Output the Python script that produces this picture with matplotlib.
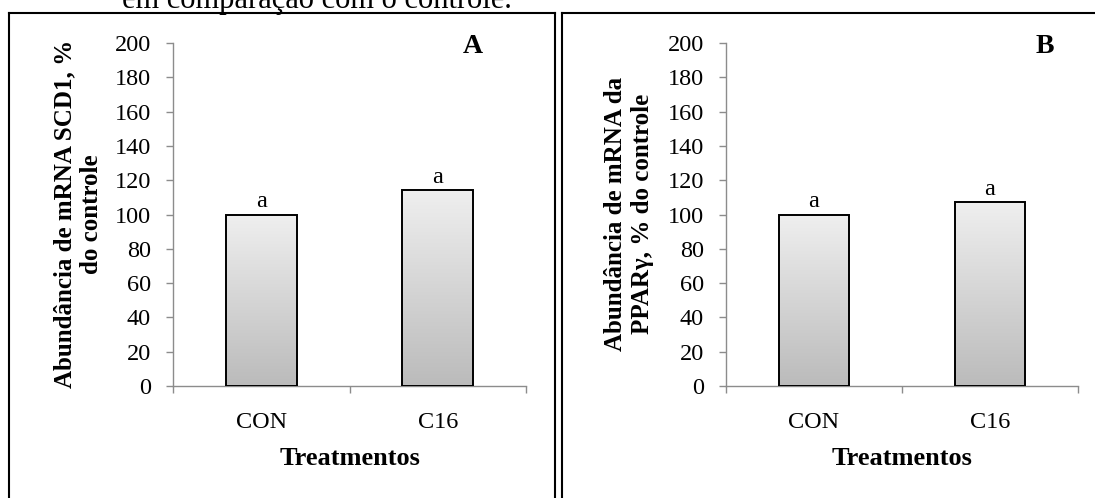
import numpy as np
import matplotlib
matplotlib.use("Agg")
from matplotlib import pyplot as plt
from matplotlib.lines import Line2D

# data
treatments = ["CON", "C16"]
scd1 = [100, 114]
pparg = [100, 107]
letters_scd1 = ["a", "a"]
letters_pparg = ["a", "a"]

plt.rcParams["font.family"] = ["Liberation Serif", "DejaVu Serif"]

W, H = 1095, 498
fig = plt.figure(figsize=(W / 100, H / 100), dpi=100)


def px_rect(left, top, right, bottom):
    return [left / W, 1 - bottom / H, (right - left) / W, (bottom - top) / H]


def gradient_bars(ax, values):
    bars = ax.bar(range(len(values)), values, width=0.4, facecolor="none",
                  edgecolor="black", linewidth=1.4, zorder=3)
    grad = np.linspace(0, 1, 256).reshape(-1, 1)
    cmap = matplotlib.colors.LinearSegmentedColormap.from_list(
        "g", ["#efefef", "#bbbbbb"])
    for b in bars:
        x0, w, h = b.get_x(), b.get_width(), b.get_height()
        im = ax.imshow(grad, cmap=cmap, aspect="auto", origin="upper",
                       extent=(x0, x0 + w, 0, h), zorder=2)
        im.set_clip_path(b)
    return bars


def panel(rect, values, letters, tag, tag_x, ylabel, ylabel_x):
    ax = fig.add_axes(rect)
    bars = gradient_bars(ax, values)
    ax.set_xlim(-0.5, len(values) - 0.5)
    ax.set_ylim(0, 200)
    ax.set_yticks(range(0, 201, 20))
    ax.set_xticks(range(len(values)))
    ax.set_xticklabels(treatments)
    ax.set_xticks(np.arange(-0.5, len(values), 1.0), minor=True)
    ax.tick_params(axis="x", which="major", length=0, pad=19, labelsize=17.5)
    ax.tick_params(axis="x", which="minor", length=5, width=1, color="#8c8c8c",
                   direction="out")
    ax.tick_params(axis="y", length=5, width=1, color="#8c8c8c", pad=11,
                   labelsize=17.5, direction="out")
    for s in ("top", "right"):
        ax.spines[s].set_visible(False)
    for s in ("left", "bottom"):
        ax.spines[s].set_color("#8c8c8c")
        ax.spines[s].set_linewidth(1.0)
    ax.set_xlabel("Treatmentos", fontsize=19, fontweight="bold", labelpad=10)
    for b, lt in zip(bars, letters):
        ax.annotate(lt, (b.get_x() + b.get_width() / 2, b.get_height()),
                    xytext=(0, 2), textcoords="offset points",
                    ha="center", va="bottom", fontsize=17.5)
    ax.text(tag_x, 0.99, tag, transform=ax.transAxes, ha="center",
            va="center", fontsize=20, fontweight="bold")
    fig.text(ylabel_x / W, 1 - 214 / H, ylabel, rotation=90, ha="center",
             va="center", multialignment="center", fontsize=18,
             fontweight="bold", linespacing=1.2)
    return ax


panel(px_rect(173, 43, 526, 386), scd1, letters_scd1, "A", 0.85,
      "Abundância de mRNA SCD1, %\ndo controle", 78)
panel(px_rect(726, 43, 1078, 386), pparg, letters_pparg, "B", 0.905,
      "Abundância de mRNA da\nPPARγ, % do controle", 629)


# panel frames (bottom edge is cut off in the source)
def frame(left, right):
    kw = dict(color="black", linewidth=1.5, transform=fig.transFigure)
    top = 1 - 13 / H
    fig.add_artist(Line2D([left / W, right / W], [top, top], **kw))
    fig.add_artist(Line2D([left / W, left / W], [top, -0.01], **kw))
    fig.add_artist(Line2D([right / W, right / W], [top, -0.01], **kw))


frame(8.5, 554.5)
frame(561.5, 1098)

# caption line from the page above, mostly clipped
fig.text(512 / W, 1 - 8 / H, "em comparação com o controle.", ha="right",
         va="baseline", fontsize=22)

fig.savefig("out.png", dpi=100)
